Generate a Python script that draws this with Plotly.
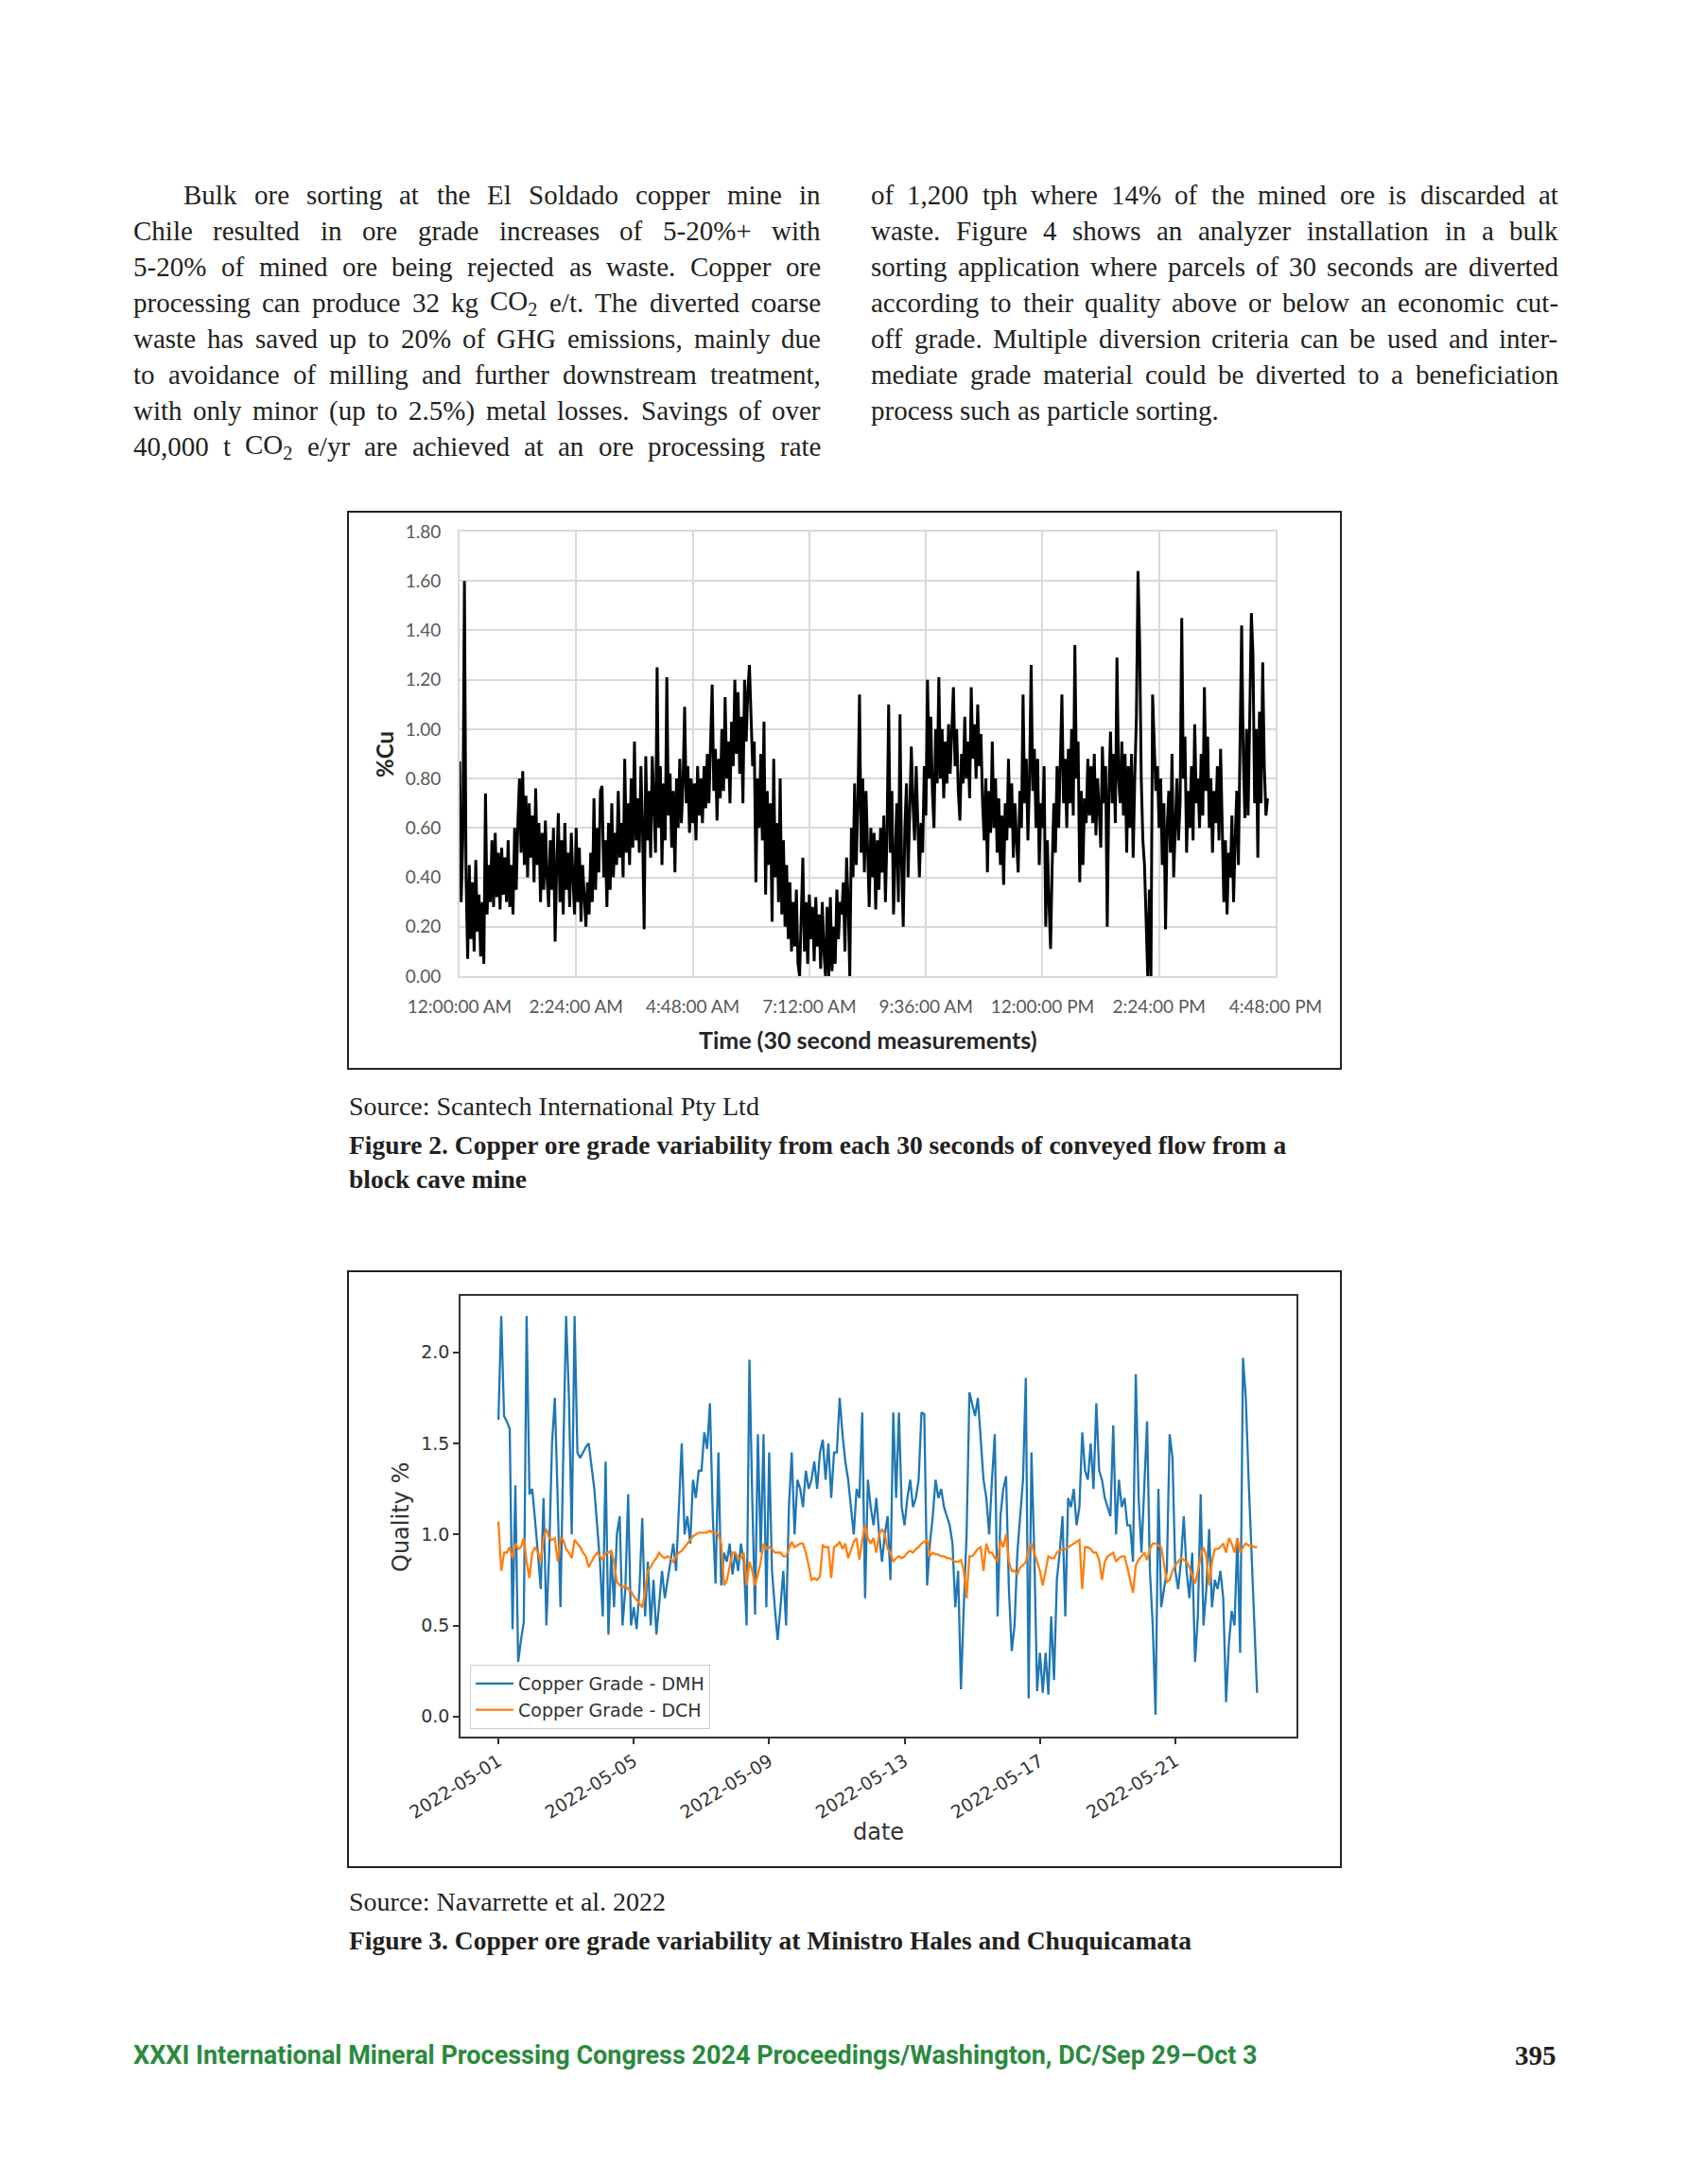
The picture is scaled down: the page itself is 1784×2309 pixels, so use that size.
import re
import numpy as np
import pandas as pd
import plotly.graph_objects as go

W, H = 1784, 2309
PAGE_OFFSET = 8  # browser body margin

# ---------------- Figure 2 data: %Cu, one value per 2 minutes ----------------
cu_pct = [
    0.87,0.30,0.55,1.60,0.40,0.07,0.45,0.15,0.38,0.10,0.47,0.18,0.33,0.08,0.30,0.05,0.74,0.25,0.45,0.30,0.55,0.28,0.58,0.32,0.50,0.27,0.52,0.33,0.48,0.30,
    0.55,0.28,0.45,0.25,0.60,0.35,0.62,0.80,0.50,0.83,0.45,0.73,0.40,0.70,0.48,0.65,0.38,0.76,0.45,0.62,0.30,0.58,0.35,0.63,0.40,0.28,0.55,0.35,0.60,0.14,
    0.45,0.66,0.30,0.55,0.25,0.62,0.35,0.50,0.28,0.58,0.40,0.25,0.60,0.30,0.52,0.22,0.45,0.30,0.20,0.38,0.25,0.50,0.30,0.72,0.35,0.60,0.42,0.75,0.77,0.40,
    0.55,0.28,0.62,0.35,0.70,0.40,0.58,0.45,0.75,0.48,0.62,0.40,0.88,0.50,0.70,0.45,0.80,0.52,0.95,0.55,0.72,0.50,0.85,0.60,0.19,0.89,0.55,0.75,0.48,0.89,
    0.72,0.50,1.25,0.60,0.85,0.45,0.78,0.55,1.21,0.65,0.82,0.52,0.75,0.42,0.80,0.60,0.88,0.62,0.78,1.09,0.70,0.85,0.58,0.80,0.62,0.78,0.55,0.85,0.65,0.80,
    0.62,0.85,0.68,0.90,0.70,0.95,1.18,0.75,0.92,0.63,0.88,0.72,1.00,0.75,1.13,0.80,0.95,0.70,1.03,0.85,1.20,0.90,1.15,0.82,1.05,0.70,1.20,0.95,1.15,1.26,
    1.00,0.85,0.95,0.38,0.80,0.60,0.90,0.55,1.03,0.33,0.75,0.45,0.70,0.22,0.88,0.40,0.62,0.30,0.80,0.25,0.55,0.20,0.45,0.15,0.38,0.10,0.30,0.12,0.35,0.05,
    0.00,0.25,0.48,0.10,0.30,0.05,0.33,0.15,0.28,0.06,0.32,0.12,0.25,0.03,0.30,0.10,0.00,0.28,0.00,0.32,0.02,0.20,0.05,0.35,0.15,0.30,0.25,0.38,0.10,0.48,
    0.30,0.00,0.60,0.40,0.78,0.45,0.70,1.14,0.50,0.80,0.42,0.75,0.55,0.28,0.60,0.40,0.58,0.27,0.55,0.35,0.60,0.42,0.65,0.30,0.58,1.10,0.50,0.75,0.25,0.45,
    0.70,0.30,1.06,0.45,0.20,0.60,0.78,0.40,0.65,0.93,0.70,0.55,0.85,0.60,0.40,0.62,0.50,0.85,0.65,1.20,0.80,1.05,0.75,0.60,1.00,0.78,1.21,0.80,1.00,0.72,
    0.95,0.78,1.02,0.82,0.98,1.17,0.85,1.00,0.75,0.63,0.90,0.78,1.05,0.80,0.95,0.72,1.17,0.88,1.02,0.80,1.10,0.85,0.98,0.70,0.55,0.80,0.42,0.75,0.58,0.95,
    0.60,0.80,0.50,0.72,0.45,0.65,0.37,0.70,0.55,0.88,0.60,0.78,0.48,0.70,0.55,0.42,0.75,0.60,1.14,0.70,0.88,0.55,0.80,1.26,0.75,0.92,0.60,0.88,0.45,0.70,
    0.60,0.85,0.20,0.55,0.30,0.11,0.45,0.70,0.50,0.85,0.60,0.90,1.14,0.70,0.88,0.60,0.92,0.70,1.00,0.65,1.34,0.80,0.95,0.38,0.75,0.45,0.72,0.62,0.88,0.65,
    0.85,0.62,0.90,0.57,0.80,0.68,0.52,0.93,0.70,0.85,0.20,0.75,0.99,0.70,0.90,0.62,1.29,0.80,0.70,0.95,0.65,0.90,0.50,0.85,0.60,0.90,0.48,0.80,1.05,1.64,
    1.35,0.80,0.55,0.45,0.20,0.00,0.35,0.00,1.14,0.95,0.75,0.85,0.60,0.80,0.45,0.70,0.19,0.60,0.75,0.50,0.90,0.40,0.65,0.80,0.55,0.70,1.45,0.80,0.97,0.50,
    0.75,0.60,0.85,0.55,1.02,0.70,0.80,0.60,0.90,0.65,1.17,0.75,0.97,0.60,0.80,0.50,0.75,0.62,0.85,0.55,0.92,0.60,0.30,0.55,0.25,0.50,0.40,0.65,0.30,0.55,
    0.75,0.45,0.85,1.42,0.90,0.64,1.00,0.65,1.05,1.47,1.30,0.70,1.00,0.48,1.07,0.70,1.27,0.85,0.65,0.72,
]
cu_step_minutes = 2
cu_tick_minutes = [0, 144, 288, 432, 576, 720, 864, 1008]
cu_tick_labels = ["12:00:00 AM", "2:24:00 AM", "4:48:00 AM", "7:12:00 AM",
                  "9:36:00 AM", "12:00:00 PM", "2:24:00 PM", "4:48:00 PM"]

# ---------------- Figure 3 data: grade %, one value per 2 hours from 2022-05-01 ----------------
dmh_grade = [
    1.63,2.20,1.65,1.62,1.58,0.48,1.27,0.30,0.42,0.52,2.20,1.22,
    1.25,1.05,0.90,0.70,1.20,0.50,0.90,1.50,1.75,1.20,0.60,1.45,
    2.20,1.75,1.00,2.20,1.45,1.42,1.45,1.48,1.50,1.38,1.25,1.05,
    0.85,0.55,1.40,0.45,0.90,0.60,1.00,1.10,0.50,0.70,1.22,0.50,
    0.60,0.48,0.70,1.09,0.55,0.85,0.50,0.75,0.45,0.62,0.80,0.65,
    0.75,0.85,0.95,0.80,1.20,1.50,1.00,1.10,0.95,1.30,1.20,1.35,
    1.35,1.56,1.47,1.72,1.10,0.73,1.45,0.72,0.90,0.85,0.95,0.78,
    0.90,0.80,0.95,0.85,0.50,1.96,1.20,0.56,1.55,0.90,1.55,0.60,
    1.45,0.80,0.60,0.42,0.60,0.80,0.50,1.15,1.45,1.00,1.30,1.25,
    1.15,1.35,1.25,1.30,1.40,1.25,1.45,1.52,1.30,1.50,1.20,1.45,
    1.45,1.75,1.55,1.40,1.30,1.15,1.00,1.25,1.20,1.67,0.65,1.30,
    1.15,1.05,1.20,1.00,0.85,1.00,1.10,0.75,1.67,1.20,1.67,1.15,
    1.05,1.20,1.30,1.15,1.20,1.30,1.67,1.66,0.72,0.95,1.10,1.30,
    1.20,1.25,1.15,1.10,1.05,0.95,0.60,0.80,0.15,0.60,1.00,1.78,
    1.72,1.65,1.75,1.55,1.30,1.20,1.00,1.30,1.55,0.55,1.10,1.25,
    1.32,0.70,0.36,0.50,0.90,1.10,1.30,1.86,0.10,1.45,0.90,0.14,
    0.35,0.13,0.35,0.12,0.55,0.20,0.75,0.90,1.10,0.55,1.20,1.15,
    1.25,1.05,1.15,1.56,1.35,1.30,1.50,1.25,1.72,1.35,1.30,1.20,
    1.15,1.10,1.60,1.00,1.30,1.15,1.20,1.05,1.05,0.85,1.88,1.20,
    0.90,1.30,1.62,0.80,0.50,0.01,1.25,0.60,0.70,0.80,1.55,1.42,
    0.80,0.70,0.85,1.10,0.80,0.65,0.90,0.30,0.55,1.22,0.50,0.70,
    1.03,0.60,0.75,0.70,0.80,0.65,0.08,0.40,0.58,0.50,0.98,0.35,
    1.97,1.75,1.30,0.90,0.45,0.13,
]
dch_grade = [
    1.07,0.80,0.90,0.90,0.93,0.87,0.95,0.92,0.93,0.98,0.85,0.76,
    0.90,0.93,0.90,0.85,0.98,1.03,0.98,0.97,0.98,0.85,0.98,0.97,
    0.92,0.90,0.87,0.97,0.95,0.93,0.90,0.88,0.82,0.85,0.88,0.90,
    0.88,0.86,0.90,0.90,0.91,0.85,0.74,0.72,0.71,0.72,0.70,0.69,
    0.66,0.64,0.62,0.60,0.68,0.80,0.82,0.85,0.87,0.90,0.88,0.87,
    0.88,0.87,0.85,0.88,0.90,0.91,0.93,0.95,0.97,0.99,1.00,1.01,
    1.01,1.01,1.01,1.02,1.01,1.01,1.00,0.95,0.72,0.75,0.82,0.90,
    0.90,0.87,0.87,0.90,0.72,0.85,0.80,0.72,0.78,0.85,0.95,0.92,
    0.93,0.92,0.90,0.90,0.90,0.88,0.88,0.92,0.96,0.93,0.94,0.95,
    0.95,0.90,0.83,0.75,0.76,0.75,0.77,0.94,0.93,0.93,0.76,0.93,
    0.94,0.96,0.92,0.95,0.87,0.92,0.96,0.98,0.86,0.97,1.05,0.98,
    0.95,0.98,0.90,1.00,1.03,1.00,0.92,0.90,0.85,0.87,0.88,0.87,
    0.88,0.90,0.91,0.90,0.92,0.93,0.95,0.96,0.97,0.88,0.90,0.89,
    0.89,0.88,0.88,0.87,0.87,0.86,0.85,0.85,0.86,0.80,0.65,0.88,
    0.88,0.90,0.92,0.93,0.80,0.95,0.90,0.90,0.87,0.85,0.97,0.93,
    1.00,0.85,0.80,0.80,0.78,0.82,0.83,0.85,0.92,0.95,0.90,0.85,
    0.80,0.72,0.80,0.88,0.87,0.87,0.90,0.91,0.92,0.92,0.93,0.94,
    0.95,0.96,0.97,0.70,0.93,0.93,0.92,0.90,0.90,0.86,0.75,0.85,
    0.88,0.89,0.90,0.85,0.87,0.88,0.88,0.82,0.75,0.68,0.83,0.86,
    0.88,0.90,0.86,0.92,0.95,0.95,0.94,0.93,0.84,0.74,0.75,0.80,
    0.83,0.85,0.87,0.86,0.85,0.82,0.78,0.73,0.80,0.88,0.93,0.88,
    0.72,0.85,0.92,0.92,0.93,0.95,0.90,0.98,0.95,0.90,0.98,0.90,
    0.93,0.95,0.94,0.94,0.93,0.93,
]
grade_start = "2022-05-01"
grade_step = "2h"
date_tick_labels = ["2022-05-01", "2022-05-05", "2022-05-09",
                    "2022-05-13", "2022-05-17", "2022-05-21"]
grade_tick_values = [0.0, 0.5, 1.0, 1.5, 2.0]
grade_tick_labels = ["0.0", "0.5", "1.0", "1.5", "2.0"]

# ---------------- page text ----------------
left_col_lines = [
    "Bulk ore sorting at the El Soldado copper mine in",
    "Chile resulted in ore grade increases of 5-20%+ with",
    "5-20% of mined ore being rejected as waste. Copper ore",
    "processing can produce 32 kg CO<sub>2</sub> e/t. The diverted coarse",
    "waste has saved up to 20% of GHG emissions, mainly due",
    "to avoidance of milling and further downstream treatment,",
    "with only minor (up to 2.5%) metal losses. Savings of over",
    "40,000 t CO<sub>2</sub> e/yr are achieved at an ore processing rate",
]
right_col_lines = [
    "of 1,200 tph where 14% of the mined ore is discarded at",
    "waste. Figure 4 shows an analyzer installation in a bulk",
    "sorting application where parcels of 30 seconds are diverted",
    "according to their quality above or below an economic cut-",
    "off grade. Multiple diversion criteria can be used and inter-",
    "mediate grade material could be diverted to a beneficiation",
    "process such as particle sorting.",
]

TEXT_COLOR = "#231f20"
SERIF = "Liberation Serif"

# Times/Liberation Serif advance widths (1/1000 em)
TW = {' ': 250, '.': 250, ',': 250, '-': 333, '%': 833, '+': 564, '(': 333, ')': 333,
      '/': 278, ':': 278}
TW.update({c: 500 for c in "0123456789"})
TW.update(dict(a=444, b=500, c=444, d=500, e=444, f=333, g=500, h=500, i=278, j=278,
               k=500, l=278, m=778, n=500, o=500, p=500, q=500, r=333, s=389, t=278,
               u=500, v=500, w=722, x=500, y=500, z=444))
TW.update(dict(B=667, C=667, D=722, E=611, F=556, G=722, H=722, I=333, L=611, M=889,
               N=722, O=722, P=556, S=556, T=611, W=944))


def word_units(word):
    total = 0.0
    for part in re.split(r"(<sub>.*?</sub>)", word):
        if part.startswith("<sub>"):
            total += 0.7 * sum(TW.get(ch, 500) for ch in part[5:-6])
        else:
            total += sum(TW.get(ch, 500) for ch in part)
    return total


def px(x):
    return (x - PAGE_OFFSET) / W


def py(y):
    return 1 - (y - PAGE_OFFSET) / H


annotations = []


def add_text(text, x, y, size, family=SERIF, color=TEXT_COLOR, xanchor="left",
             yanchor="middle", angle=0):
    annotations.append(dict(text=text, x=px(x), y=py(y), xref="paper", yref="paper",
                            showarrow=False, xanchor=xanchor, yanchor=yanchor,
                            textangle=angle, borderpad=0,
                            font=dict(family=family, size=size, color=color)))


def add_column(lines, left, right, y0, step, size, indent_first=0, last_ragged=False):
    for k, line in enumerate(lines):
        words = line.split(" ")
        widths = [word_units(w) * size / 1000 for w in words]
        x_start = left + (indent_first if k == 0 else 0)
        ragged = last_ragged and k == len(lines) - 1
        if ragged or len(words) == 1:
            gap = 250 * size / 1000
        else:
            gap = (right - x_start - sum(widths)) / (len(words) - 1)
            gap = max(gap, 3)
        x = x_start
        y = y0 + k * step
        for w, wd in zip(words, widths):
            add_text(w, x, y, size)
            x += wd + gap


BODY_SIZE = 29
add_column(left_col_lines, 140, 867, 206, 38, BODY_SIZE, indent_first=53)
add_column(right_col_lines, 920, 1647, 206, 38, BODY_SIZE, last_ragged=True)

# captions
add_text("Source: Scantech International Pty Ltd", 368, 1169, 28)
add_text("<b>Figure 2. Copper ore grade variability from each 30 seconds of conveyed flow from a</b>",
         368, 1210, 27.5)
add_text("<b>block cave mine</b>", 368, 1246, 27.5)
add_text("Source: Navarrette et al. 2022", 368, 2011, 28)
add_text("<b>Figure 3. Copper ore grade variability at Ministro Hales and Chuquicamata</b>",
         368, 2052, 27.5)

# footer
add_text("<b>XXXI International Mineral Processing Congress 2024 Proceedings/Washington, DC/Sep 29–Oct 3</b>",
         140, 2173, 27, family="Roboto", color="#2b8a3e")
add_text("<b>395</b>", 1647, 2173, 29, xanchor="right")

# chart 1 axis titles
add_text("<b>Time (30 second measurements)</b>", 918, 1099, 25, family="Lato",
         color="#262626", xanchor="center")
add_text("<b>%Cu</b>", 406, 798, 24, family="Lato", color="#262626",
         xanchor="center", angle=-90)

# chart 2 axis titles
add_text("date", 929, 1937, 24, family="DejaVu Sans", color="#333333", xanchor="center")
add_text("Quality %", 424, 1604, 24, family="DejaVu Sans", color="#333333",
         xanchor="center", angle=-90)

# ---------------- traces ----------------
cu_minutes = np.arange(len(cu_pct)) * cu_step_minutes
dmh_dates = pd.date_range(grade_start, periods=len(dmh_grade), freq=grade_step)
dch_dates = pd.date_range(grade_start, periods=len(dch_grade), freq=grade_step)

fig = go.Figure()
fig.add_trace(go.Scatter(x=cu_minutes, y=cu_pct, mode="lines",
                         line=dict(color="#000000", width=3),
                         showlegend=False, xaxis="x", yaxis="y"))
fig.add_trace(go.Scatter(x=dmh_dates, y=dmh_grade, mode="lines", name="Copper Grade - DMH",
                         line=dict(color="#1f77b4", width=2.3), xaxis="x2", yaxis="y2"))
fig.add_trace(go.Scatter(x=dch_dates, y=dch_grade, mode="lines", name="Copper Grade - DCH",
                         line=dict(color="#ff7f0e", width=2.3), xaxis="x2", yaxis="y2"))

grid = "#d9d9d9"
c1_font = dict(family="Lato", size=19, color="#595959")
c2_font = dict(family="DejaVu Sans", size=19, color="#333333")

shapes = [
    dict(type="rect", xref="paper", yref="paper", x0=px(368), x1=px(1418),
         y0=py(1130), y1=py(541), line=dict(color="#222222", width=2)),
    dict(type="rect", xref="paper", yref="paper", x0=px(368), x1=px(1418),
         y0=py(1974), y1=py(1344), line=dict(color="#222222", width=2)),
]

fig.update_layout(
    width=W, height=H, margin=dict(l=0, r=0, t=0, b=0, pad=0, autoexpand=False),
    autosize=False,
    paper_bgcolor="white", plot_bgcolor="white",
    annotations=annotations, shapes=shapes,
    xaxis=dict(domain=[px(486), px(1349)], range=[0, 1008], anchor="y", automargin=False,
               tickvals=cu_tick_minutes, ticktext=cu_tick_labels,
               showgrid=True, gridcolor=grid, gridwidth=2, zeroline=False,
               showline=True, linecolor=grid, linewidth=2, mirror=True,
               ticks="", tickfont=c1_font, ticklabelstandoff=14),
    yaxis=dict(domain=[py(1032), py(562)], range=[0, 1.8], anchor="x", automargin=False,
               dtick=0.2, tickformat=".2f",
               showgrid=True, gridcolor=grid, gridwidth=2, zeroline=False,
               showline=True, linecolor=grid, linewidth=2, mirror=True,
               ticks="", tickfont=c1_font, ticklabelstandoff=14),
    xaxis2=dict(domain=[px(487), px(1371)], type="date", anchor="y2", automargin=False,
                range=["2022-04-29 21:07", "2022-05-24 13:55"],
                tickvals=date_tick_labels, ticktext=date_tick_labels, tickangle=-32,
                ticks="outside", ticklen=6, tickcolor="#333333", tickwidth=1.5,
                showgrid=False, zeroline=False,
                showline=True, linecolor="#333333", linewidth=1.5, mirror=True,
                tickfont=c2_font),
    yaxis2=dict(domain=[py(1836), py(1370)], range=[-0.11, 2.31], anchor="x2", automargin=False,
                tickvals=grade_tick_values, ticktext=grade_tick_labels,
                ticks="outside", ticklen=6, tickcolor="#333333", tickwidth=1.5,
                showgrid=False, zeroline=False,
                showline=True, linecolor="#333333", linewidth=1.5, mirror=True,
                tickfont=c2_font),
    legend=dict(x=px(497), y=py(1828), xanchor="left", yanchor="bottom",
                bgcolor="white", bordercolor="#cccccc", borderwidth=1,
                font=dict(family="DejaVu Sans", size=19, color="#333333"),
                itemwidth=40, tracegroupgap=0),
    showlegend=True,
)

fig.write_html("out.html")
